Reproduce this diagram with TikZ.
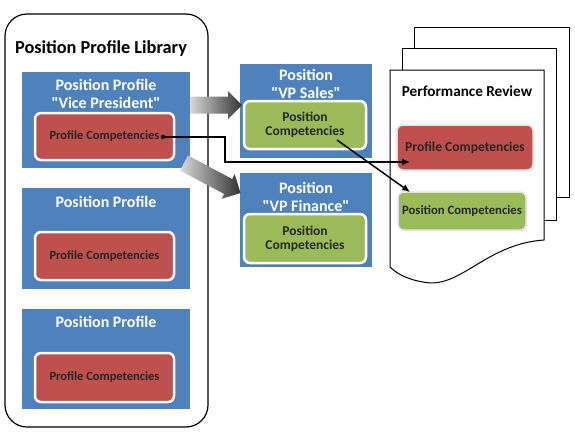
\documentclass[tikz,border=0pt]{standalone}
\usepackage{fontspec}
\setmainfont{Carlito}
\newfontfamily\plainquote{Carlito}
\usetikzlibrary{arrows.meta,shadows}

\definecolor{profblue}{HTML}{4F81BD}
\definecolor{profred}{HTML}{C0504D}
\definecolor{posgreen}{HTML}{9BBB59}

% straight quotes
\newcommand\qt[1]{{\plainquote"}#1{\plainquote"}}

% fat grey arrow: start, angle, length
\newcommand\fatarrow[3]{%
  \begin{scope}[shift={#1},rotate=#2]
    \shade[left color=gray!30,right color=black!80]
      (0,-8.5) -- (#3-14,-8.5) -- (#3-14,-14) -- (#3,0)
      -- (#3-14,14) -- (#3-14,8.5) -- (0,8.5) -- cycle;
  \end{scope}}

\begin{document}
\begin{tikzpicture}[x=1pt,y=-1pt,
    libbox/.style={draw,line width=1.2pt,rounded corners=22pt},
    bluebox/.style={fill=profblue,anchor=north west,inner sep=0pt},
    bluetitle/.style={text=white,align=center,font=\bfseries\fontsize{16}{18}\selectfont},
    inner/.style={draw=white,line width=2.5pt,rounded corners=6pt,inner sep=0pt,
      align=center,drop shadow={opacity=.25,shadow xshift=1pt,shadow yshift=-1pt}},
    profcomp/.style={inner,fill=profred,text=black!85,font=\bfseries\fontsize{12.5}{14}\selectfont},
    poscomp/.style={inner,fill=posgreen,text=black!85,font=\bfseries\fontsize{13.5}{14}\selectfont},
    page/.style={draw,fill=white,line width=1pt},
    conn/.style={line width=1.5pt}]
  \useasboundingbox (0,0) rectangle (575,432);

  % Library
  \draw[libbox] (5,14) rectangle (208,427);
  \node[font=\bfseries\fontsize{18.3}{20}\selectfont] (libtitle) at (101,48) {Position Profile Library};

  \node[bluebox,minimum width=168pt,minimum height=96pt] (vpbox) at (22,72) {};
  \node[bluetitle] (vptitle) at (106,94) {Position Profile\\\qt{Vice President}};
  \node[profcomp,minimum width=139pt,minimum height=47pt] (vpcomp) at (104.5,136.5) {Profile Competencies};

  \node[bluebox,minimum width=168pt,minimum height=101pt] (ppbox) at (22,188) {};
  \node[bluetitle] (pptitle) at (106,202) {Position Profile};
  \node[profcomp,minimum width=139pt,minimum height=48pt] (ppcomp) at (104.5,256) {Profile Competencies};

  \node[bluebox,minimum width=168pt,minimum height=100pt] (qqbox) at (22,309) {};
  \node[bluetitle] (qqtitle) at (106,322) {Position Profile};
  \node[profcomp,minimum width=139pt,minimum height=49pt] (qqcomp) at (104.5,377.5) {Profile Competencies};

  % Positions
  \node[bluebox,minimum width=132pt,minimum height=94pt] (salesbox) at (240,64) {};
  \node[bluetitle] (salestitle) at (306,84) {Position\\\qt{VP Sales}};
  \node[poscomp,minimum width=122pt,minimum height=48pt] (salescomp) at (305,125) {Position\\Competencies};

  \node[bluebox,minimum width=132pt,minimum height=94pt] (finbox) at (240,173) {};
  \node[bluetitle] (fintitle) at (306,197) {Position\\\qt{VP Finance}};
  \node[poscomp,minimum width=122pt,minimum height=49pt] (fincomp) at (305,238.5) {Position\\Competencies};

  % Review pages
  \draw[page] (414,27) rectangle (569,197);
  \draw[page] (402,48) rectangle (556,220);
  \draw[page] (390,70) -- (544,70) -- (544,240)
    .. controls (485,244) and (460,290) .. (423,282)
    .. controls (405,279) and (395,272) .. (390,267) -- cycle;
  \node[font=\bfseries\fontsize{15.2}{17}\selectfont] (revtitle) at (467,91) {Performance Review};
  \node[profcomp,font=\bfseries\fontsize{13.6}{15}\selectfont,draw=white!90!black,line width=1.5pt,
    minimum width=136pt,minimum height=45pt] (revprof) at (465,147.5) {Profile Competencies};
  \node[poscomp,font=\bfseries\fontsize{12.7}{14}\selectfont,draw=white!90!black,line width=1.5pt,
    minimum width=128pt,minimum height=38pt] (revpos) at (462,211) {Position Competencies};

  % Transfers
  \fatarrow{(190,105)}{0}{52}
  \fatarrow{(184,163)}{-28}{64}

  \coordinate (profout) at (163,137);
  \coordinate (profin) at (410,162);
  \coordinate (posout) at (337,140);
  \coordinate (posin) at (410,192);
  \fill (profout) circle (2.2pt);
  \draw[conn,-{Latex[length=8pt,width=7pt]}] (profout) -- ++(62,0) |- (profin);
  \draw[conn,-{Latex[length=8pt,width=7pt]}] (posout) -- (posin);
\end{tikzpicture}
\end{document}
